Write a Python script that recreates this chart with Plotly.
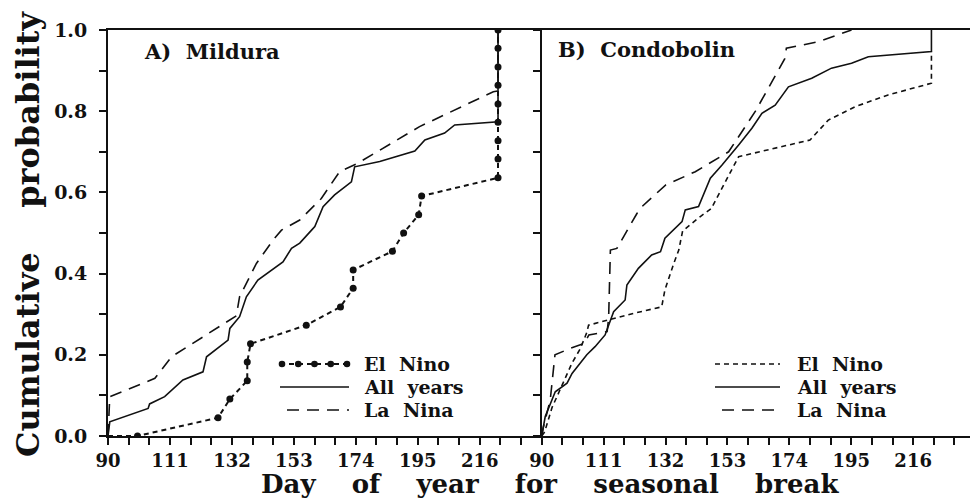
import plotly.graph_objects as go

# ---------------- data ----------------
# A) Mildura
mil_el_day = [90, 100.0, 127.3, 131.3, 137.2, 137.2, 138.3, 157.2, 168.8, 173.1, 173.1,
              186.4, 190.2, 195.3, 196.3, 222.2, 222.2, 222.2, 222.2, 222.2, 222.2,
              222.2, 222.2, 222.2]
mil_el_prob = [0, 0, 0.045, 0.091, 0.136, 0.182, 0.227, 0.273, 0.318, 0.364, 0.409,
               0.455, 0.5, 0.545, 0.591, 0.636, 0.682, 0.727, 0.773, 0.818, 0.864,
               0.909, 0.955, 1.0]

mil_all_day = [90, 90.6, 103.6, 104.1, 109.2, 115.4, 122.2, 123.4, 130.7, 131.3, 134.6,
               136.9, 140.8, 149.3, 152.2, 155.0, 159.0, 160.1, 162.9, 166.8, 172.5,
               173.6, 182.1, 194.0, 197.4, 204.1, 207.5, 222.2, 222.2]
mil_all_prob = [0, 0.035, 0.068, 0.079, 0.097, 0.138, 0.158, 0.195, 0.236, 0.265, 0.294,
                0.343, 0.384, 0.429, 0.462, 0.475, 0.507, 0.516, 0.565, 0.594, 0.626,
                0.663, 0.676, 0.702, 0.729, 0.746, 0.766, 0.774, 1.0]

mil_la_day = [90, 90.6, 105.9, 111.5, 133.5, 134.6, 140.3, 146.0, 148.8, 155.0, 162.3,
              168.5, 174.7, 195.6, 220.6, 222.2, 222.2]
mil_la_prob = [0, 0.097, 0.142, 0.195, 0.296, 0.343, 0.425, 0.483, 0.507, 0.532, 0.585,
               0.651, 0.672, 0.762, 0.848, 0.85, 1.0]

# B) Condobolin
con_el_day = [90, 91.0, 93.5, 96.0, 100.3, 103.1, 105.3, 105.9, 112.7, 121.1, 130.7,
              131.8, 134.8, 136.5, 137.8, 143.7, 147.5, 156.8, 181.0, 187.2, 196.3,
              207.5, 222.2, 222.2]
con_el_prob = [0, 0.01, 0.07, 0.11, 0.18, 0.215, 0.255, 0.273, 0.286, 0.302, 0.318,
               0.36, 0.425, 0.458, 0.505, 0.54, 0.56, 0.688, 0.729, 0.778, 0.811,
               0.84, 0.869, 0.947]

con_all_day = [90, 90.4, 91.2, 94.6, 98.6, 100.3, 105.3, 108.1, 111.5, 114.4, 118.3,
               118.9, 122.8, 127.3, 130.3, 131.8, 137.6, 138.7, 143.2, 147.2, 151.1,
               156.8, 161.3, 164.7, 169.2, 173.7, 181.6, 188.3, 195.1, 200.8, 222.2,
               222.2]
con_all_prob = [0, 0.015, 0.048, 0.109, 0.13, 0.154, 0.2, 0.22, 0.249, 0.306, 0.335,
                0.372, 0.413, 0.446, 0.454, 0.487, 0.528, 0.557, 0.565, 0.635, 0.667,
                0.717, 0.758, 0.795, 0.815, 0.86, 0.881, 0.906, 0.918, 0.934, 0.947,
                1.0]

con_la_day = [90, 90.5, 92.9, 94.5, 99.8, 104.5, 106.0, 112.2, 112.7, 113.3, 115.5,
              122.3, 124.0, 132.0, 142.1, 153.4, 162.5, 172.5, 173.0, 183.8, 195.1]
con_la_prob = [0, 0.02, 0.089, 0.2, 0.216, 0.228, 0.249, 0.257, 0.29, 0.458, 0.462,
               0.548, 0.565, 0.618, 0.651, 0.7, 0.8, 0.93, 0.955, 0.971, 1.0]

x_tick_labels = [90, 111, 132, 153, 174, 195, 216]
y_tick_labels = [0.0, 0.2, 0.4, 0.6, 0.8, 1.0]
series_names = ["El Nino", "All years", "La Nina"]
panel_titles = ["A)  Mildura", "B)  Condobolin"]
x_title = "Day of year for seasonal break"
y_title = "Cumulative probability"

# ---------------- styling ----------------
FONT = "DejaVu Serif"
BLACK = "#111111"
DASH_EL = "5px,4px"
DASH_LA = "12px,8px"
W, H = 970, 500
ML, MR, MT, MB = 108, 0, 30, 64
PW, PH = W - ML - MR, H - MT - MB
split = (541.7 - ML) / PW


def px(x, y):
    return (x - ML) / PW, (H - MB - y) / PH


fig = go.Figure()

lw = 1.6
fig.add_trace(go.Scatter(x=mil_el_day[1:], y=mil_el_prob[1:], mode="markers",
                         marker=dict(size=7, color=BLACK), xaxis="x", yaxis="y",
                         hoverinfo="skip"))
fig.add_trace(go.Scatter(x=mil_el_day, y=mil_el_prob, mode="lines", name=series_names[0],
                         line=dict(color=BLACK, width=lw + 0.4, dash=DASH_EL), xaxis="x", yaxis="y"))
fig.add_trace(go.Scatter(x=mil_all_day, y=mil_all_prob, mode="lines", name=series_names[1],
                         line=dict(color=BLACK, width=lw), xaxis="x", yaxis="y"))
fig.add_trace(go.Scatter(x=mil_la_day, y=mil_la_prob, mode="lines", name=series_names[2],
                         line=dict(color=BLACK, width=lw, dash=DASH_LA), xaxis="x", yaxis="y"))

fig.add_trace(go.Scatter(x=con_el_day, y=con_el_prob, mode="lines", name=series_names[0],
                         line=dict(color=BLACK, width=lw, dash=DASH_EL), xaxis="x2", yaxis="y2"))
fig.add_trace(go.Scatter(x=con_all_day, y=con_all_prob, mode="lines", name=series_names[1],
                         line=dict(color=BLACK, width=lw), xaxis="x2", yaxis="y2"))
fig.add_trace(go.Scatter(x=con_la_day, y=con_la_prob, mode="lines", name=series_names[2],
                         line=dict(color=BLACK, width=lw, dash=DASH_LA), xaxis="x2", yaxis="y2"))

xtickfont = dict(family=FONT, size=18, color=BLACK, weight="bold")
ytickfont = dict(family=FONT, size=19, color=BLACK, weight="bold")
xcommon = dict(tickvals=x_tick_labels, ticktext=[str(v) for v in x_tick_labels],
               ticks="outside", ticklen=7, tickwidth=1.5, tickcolor=BLACK,
               minor=dict(dtick=7, tick0=90, ticks="outside", ticklen=7, tickwidth=1.5, tickcolor=BLACK),
               showline=True, linewidth=2, linecolor=BLACK, mirror=True, automargin=False,
               showgrid=False, zeroline=False, tickfont=xtickfont, ticklabelstandoff=0)
ycommon = dict(range=[0, 1], tickvals=y_tick_labels,
               ticks="outside", ticklen=7, tickwidth=1.5, tickcolor=BLACK,
               minor=dict(dtick=0.1, tick0=0, ticks="outside", ticklen=7, tickwidth=1.5, tickcolor=BLACK),
               showline=True, linewidth=2, linecolor=BLACK, automargin=False,
               showgrid=False, zeroline=False, tickfont=ytickfont)

fig.update_layout(
    width=W, height=H, margin=dict(l=ML, r=MR, t=MT, b=MB, autoexpand=False),
    plot_bgcolor="white", paper_bgcolor="white", showlegend=False,
    xaxis=dict(domain=[0, split], range=[90, 237], anchor="y", **xcommon),
    xaxis2=dict(domain=[split, 1], range=[90, 90 + (W - 541.7) / 2.948], anchor="y2", **xcommon),
    yaxis=dict(domain=[0, 1], anchor="x", tickformat=".1f", ticklabelstandoff=8, **ycommon),
    yaxis2=dict(domain=[0, 1], anchor="x2", showticklabels=False, **ycommon),
)

ann = []
nb = "\u00a0"
xt, yt = px(550, 484)
ann.append(dict(text=x_title.replace(" ", nb * 4), x=xt, y=yt, xref="paper", yref="paper",
                showarrow=False, font=dict(family=FONT, size=26, color=BLACK, weight="bold"),
                xanchor="center", yanchor="middle"))
xt, yt = px(28, 234)
ann.append(dict(text=y_title.replace(" ", nb * 4), x=xt, y=yt, xref="paper", yref="paper",
                showarrow=False, font=dict(family=FONT, size=32, color=BLACK, weight="bold"),
                textangle=-90, xanchor="center", yanchor="middle"))
labfont = dict(family=FONT, size=21, color=BLACK, weight="bold")
for (lx, ly), t in zip([(142, 51), (556, 49)], panel_titles):
    xx, yy = px(lx, ly)
    ann.append(dict(text=t.replace(" ", nb), x=xx, y=yy, xref="paper", yref="paper",
                    showarrow=False, font=labfont, xanchor="left", yanchor="middle"))

# legends
shapes = []
legfont = dict(family=FONT, size=19, color=BLACK, weight="bold")
legend_specs = [
    (280, 349, 362, [364, 387, 410], True),
    (715, 780, 795, [364, 387, 410], False),
]
for x0, x1, tx, rows, dots in legend_specs:
    dashes = [DASH_EL, "solid", DASH_LA]
    for i, (ry, nm) in enumerate(zip(rows, series_names)):
        a0, b0 = px(x0 + (7 if i == 2 else 0), ry)
        a1, b1 = px(x1, ry)
        shapes.append(dict(type="line", xref="paper", yref="paper", x0=a0, y0=b0, x1=a1, y1=b1,
                           line=dict(color=BLACK, width=lw + (0.4 if i == 0 and dots else 0), dash=dashes[i])))
        ta, tb = px(tx, ry)
        ann.append(dict(text=nm.replace(" ", nb * 2), x=ta, y=tb, xref="paper", yref="paper",
                        showarrow=False, font=legfont, xanchor="left", yanchor="middle"))
    if dots:
        for k in range(5):
            cx = x0 + 2 + k * (x1 - x0 - 4) / 4
            c0 = px(cx - 3.3, rows[0] - 3.3)
            c1 = px(cx + 3.3, rows[0] + 3.3)
            shapes.append(dict(type="circle", xref="paper", yref="paper",
                               x0=c0[0], y0=c1[1], x1=c1[0], y1=c0[1],
                               fillcolor=BLACK, line=dict(width=0)))

fig.update_layout(annotations=ann, shapes=shapes)
fig.write_html("out.html", config={"displayModeBar": False},
               post_script="document.body.style.margin='0';document.body.style.overflow='hidden';")
